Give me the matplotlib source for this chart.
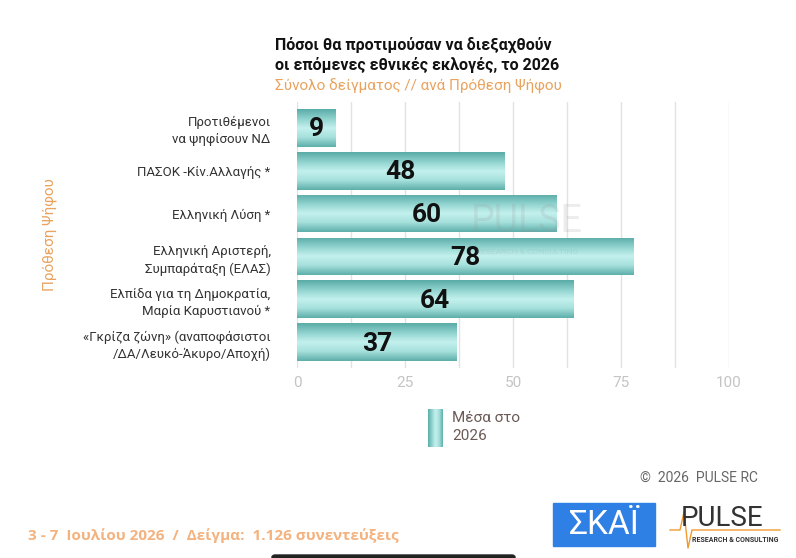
import numpy as np
import matplotlib
matplotlib.use("Agg")
import matplotlib.pyplot as plt
from matplotlib.colors import LinearSegmentedColormap
from matplotlib.patches import Rectangle, FancyBboxPatch

categories = [
    "Προτιθέμενοι\nνα ψηφίσουν ΝΔ",
    "ΠΑΣΟΚ -Κίν.Αλλαγής *",
    "Ελληνική Λύση *",
    "Ελληνική Αριστερή,\nΣυμπαράταξη (ΕΛΑΣ)",
    "Ελπίδα για τη Δημοκρατία,\nΜαρία Καρυστιανού *",
    "«Γκρίζα ζώνη» (αναποφάσιστοι\n/ΔΑ/Λευκό-Άκυρο/Αποχή)",
]
values = [9, 48, 60, 78, 64, 37]
xticks = [0, 25, 50, 75, 100]
series_name = "Μέσα στο\n2026"

title = "Πόσοι θα προτιμούσαν να διεξαχθούν\nοι επόμενες εθνικές εκλογές, το 2026"
subtitle = "Σύνολο δείγματος // ανά Πρόθεση Ψήφου"
ylabel = "Πρόθεση Ψήφου"
footer = "3 - 7  Ιουλίου 2026  /  Δείγμα:  1.126 συνεντεύξεις"
copyright_txt = "©  2026  PULSE RC"

ORANGE = "#e9a35e"
FONT = ["Roboto", "DejaVu Sans"]

bar_cmap = LinearSegmentedColormap.from_list(
    "tube", ["#5aaca8", "#8fd2ce", "#c4f1ee", "#a6e0dc", "#5eafab"])
grad = np.linspace(0, 1, 64).reshape(-1, 1)

W, H = 796, 558
fig = plt.figure(figsize=(W / 100, H / 100), dpi=100)
ax = fig.add_axes([297 / W, 1 - 368 / H, 432 / W, 266 / H])

ypos = np.arange(len(values))
bars = ax.barh(ypos, values, height=0.88, color="#8fd2ce", zorder=2)
for b in bars:
    x0, y0 = b.get_x(), b.get_y()
    w, h = b.get_width(), b.get_height()
    im = ax.imshow(grad, extent=[x0, x0 + w, y0 + h, y0], cmap=bar_cmap,
                   aspect="auto", zorder=3, interpolation="bicubic")
    im.set_clip_path(b)

for yy, v in zip(ypos, values):
    ax.text(v / 2, yy + 0.04, str(v), ha="center", va="center",
            fontsize=19, fontweight="bold", family=FONT, color="#111111",
            zorder=5)

ax.set_xlim(0, 100)
ax.set_ylim(len(values) - 0.4, -0.6)
ax.set_xticks(np.arange(0, 100.1, 12.5), minor=False)
ax.set_xticklabels([str(int(t)) if t in xticks else "" for t in np.arange(0, 100.1, 12.5)],
                   fontsize=11, color="#c4c4c4", family=FONT)
ax.grid(axis="x", color="#e2e2e2", linewidth=1, zorder=0)
ax.set_yticks(ypos)
ax.set_yticklabels(categories, fontsize=9.5, color="#333333", family=FONT,
                   linespacing=1.4)
ax.tick_params(axis="y", length=0, pad=19)
ax.tick_params(axis="x", length=0, pad=6)
for s in ax.spines.values():
    s.set_visible(False)

# watermark
fig.text(527 / W, 1 - 222 / H, "PULSE", fontsize=27, color="#999999",
         alpha=0.18, ha="center", va="center", family=FONT)
fig.text(527 / W, 1 - 252 / H, "RESEARCH & CONSULTING", fontsize=6,
         color="#999999", alpha=0.18, ha="center", va="center", family=FONT)

# titles
fig.text(275 / W, 1 - 55 / H, title, fontsize=11.5, fontweight="bold",
         color="#111111", ha="left", va="center", family=FONT, linespacing=1.3)
fig.text(275 / W, 1 - 86 / H, subtitle, fontsize=11, color=ORANGE,
         ha="left", va="center", family=FONT)
fig.text(50 / W, 1 - 235 / H, ylabel, fontsize=11, color=ORANGE,
         rotation=90, ha="center", va="center", family=FONT)

# legend
lax = fig.add_axes([428 / W, 1 - 447 / H, 15 / W, 38 / H])
lax.imshow(np.linspace(0, 1, 64).reshape(1, -1), cmap=bar_cmap, aspect="auto",
           interpolation="bicubic")
lax.axis("off")
fig.text(452 / W, 1 - 427 / H, series_name, fontsize=11, color="#6b5a55",
         ha="left", va="center", family=FONT, linespacing=1.35)

# footer
fig.text(640 / W, 1 - 478 / H, copyright_txt, fontsize=10, color="#666666",
         ha="left", va="center", family=FONT)
fig.text(28 / W, 1 - 536 / H, footer, fontsize=11, fontweight="bold",
         color="#f4b27e", ha="left", va="center", family=["Open Sans", "DejaVu Sans"])

# logos
fig.patches.append(Rectangle((553 / W, 1 - 546 / H), 102 / W, 43 / H,
                             transform=fig.transFigure, color="#2f80e4"))
fig.text(604 / W, 1 - 525 / H, "ΣΚΑΪ", fontsize=24, color="white",
         ha="center", va="center", family=FONT)
fig.text(722 / W, 1 - 518 / H, "PULSE", fontsize=20, color="#333333",
         ha="center", va="center", family=FONT)
fig.lines.append(plt.Line2D([670 / W, 680 / W, 684 / W, 688 / W, 692 / W, 780 / W],
                            [1 - 530 / H, 1 - 530 / H, 1 - 512 / H, 1 - 548 / H,
                             1 - 530 / H, 1 - 530 / H],
                            transform=fig.transFigure, color="#f09a30", linewidth=1))
fig.text(735 / W, 1 - 540 / H, "RESEARCH & CONSULTING", fontsize=5, color="#333333",
         ha="center", va="center", family=FONT, fontweight="bold")

fig.patches.append(FancyBboxPatch((272 / W, 1 - 560 / H), 243 / W, 5 / H,
                                  boxstyle="round,pad=0,rounding_size=0.004",
                                  transform=fig.transFigure, color="#222222"))

fig.savefig("out.png", dpi=100)
